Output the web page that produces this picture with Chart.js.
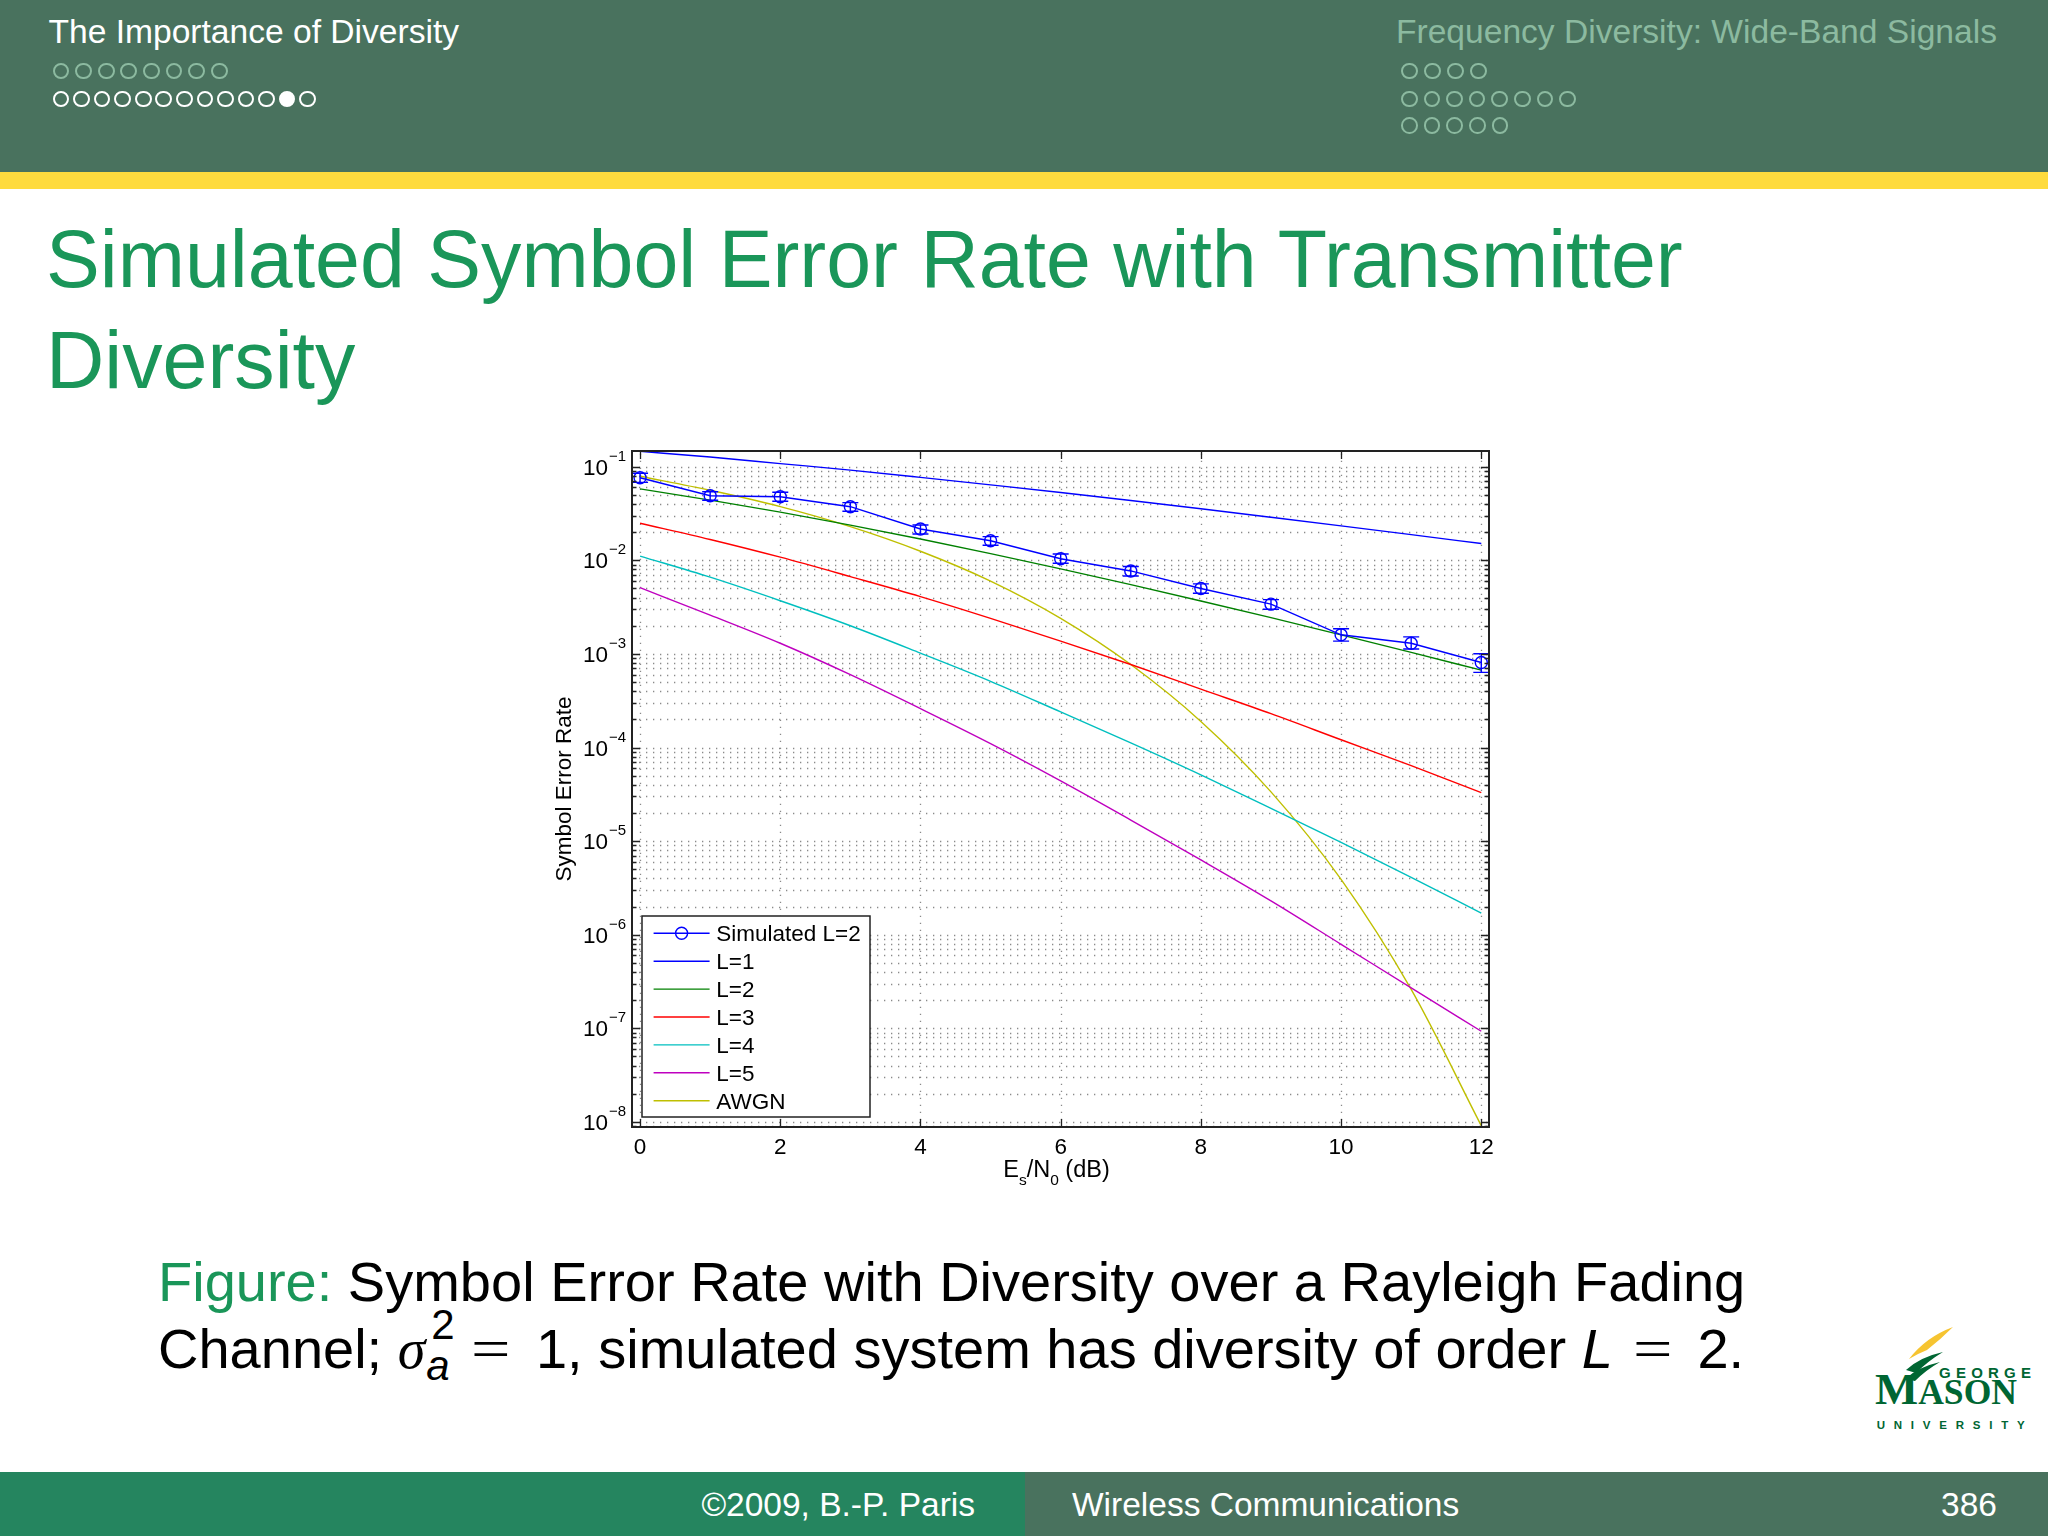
<!DOCTYPE html>
<html>
<head>
<meta charset="utf-8">
<script src="https://cdn.jsdelivr.net/npm/chart.js@4.4.1/dist/chart.umd.min.js"></script>
<style>
html,body{margin:0;padding:0;}
body{width:2048px;height:1536px;position:relative;background:#fff;overflow:hidden;font-family:"Liberation Sans",Arial,Helvetica,sans-serif;}
.abs{position:absolute;white-space:nowrap;line-height:1;}
#hdr{left:0;top:0;width:2048px;height:172px;background:#49725e;}
#ybar{left:0;top:172px;width:2048px;height:17px;background:#fedb3e;}
.htxt{font-size:33.6px;top:14.9px;}
.dot{position:absolute;box-sizing:border-box;width:16.7px;height:16.7px;border-radius:50%;border:2px solid #fff;}
.title{font-size:80.7px;color:#1a9659;left:46px;}
.cap{font-size:56px;color:#000;left:158px;}
.sig{font-family:"Liberation Serif","DejaVu Serif",serif;font-style:italic;}
.ss{display:inline-block;position:relative;width:26px;height:0;}
.ss .sup{position:absolute;left:6px;bottom:22px;font-size:42px;line-height:1;}
.ss .sub{position:absolute;left:1px;bottom:-19px;font-size:42px;line-height:1;font-style:italic;}
.eq{font-family:"Liberation Serif","DejaVu Serif",serif;margin:0 29px 0 24px;display:inline-block;transform:scaleX(1.25);}
#ftL{left:0;top:1472px;width:1025px;height:64px;background:#25855f;}
#ftR{left:1025px;top:1472px;width:1023px;height:64px;background:#49725e;}
.ftxt{font-size:33.5px;color:#fff;top:1487.6px;}
</style>
</head>
<body>
<div class="abs" id="hdr"></div>
<div class="abs" id="ybar"></div>
<div class="abs htxt" style="left:48.5px;color:#fff;">The Importance of Diversity</div>
<div class="abs htxt" style="left:1396px;color:#8cbaa0;">Frequency Diversity: Wide-Band Signals</div>
<div id="dots"></div>

<div class="abs title" style="top:218.7px;">Simulated Symbol Error Rate with Transmitter</div>
<div class="abs title" style="top:319.7px;">Diversity</div>

<canvas id="c" width="1020" height="800" style="position:absolute;left:500px;top:430px;"></canvas>

<div class="abs cap" style="top:1254.3px;"><span style="color:#1a9659;">Figure:</span> Symbol Error Rate with Diversity over a Rayleigh Fading</div>
<div class="abs cap" style="top:1320.9px;">Channel; <span class="sig">σ</span><span class="ss"><span class="sup">2</span><span class="sub">a</span></span><span class="eq">=</span>1, simulated system has diversity of order <i>L</i><span class="eq">=</span>2.</div>

<svg class="abs" style="left:1860px;top:1320px;" width="185" height="120" viewBox="0 0 185 120">
  <path d="M49 39 Q66 17 93 7 Q81 19 67 30 Q57 34 49 39 Z" fill="#f6c431"/>
  <path d="M46 50 Q60 37 83 32 Q68 41 56 53 Z" fill="#006633"/>
  <path d="M45 59 Q58 47 80 42 Q66 50 55 61 Z" fill="#006633"/>
  <text x="79" y="58.3" font-family="Liberation Sans, Arial, sans-serif" font-weight="bold" font-size="15" fill="#006633" textLength="92" lengthAdjust="spacing">GEORGE</text>
  <text x="15" y="84.3" font-family="Liberation Serif, Times New Roman, serif" font-weight="bold" fill="#006633" textLength="142" lengthAdjust="spacingAndGlyphs"><tspan font-size="45">M</tspan><tspan font-size="35">ASON</tspan></text>
  <text x="16.7" y="109" font-family="Liberation Sans, Arial, sans-serif" font-weight="bold" font-size="11.5" fill="#006633" textLength="148" lengthAdjust="spacing">UNIVERSITY</text>
</svg>

<div class="abs" id="ftL"></div>
<div class="abs" id="ftR"></div>
<div class="abs ftxt" style="right:1073px;text-align:right;">©2009, B.-P. Paris</div>
<div class="abs ftxt" style="left:1072px;">Wireless Communications</div>
<div class="abs ftxt" style="right:51px;text-align:right;">386</div>

<script>
// ---------------- navigation dots (slide decoration) ----------------
(function () {
  const rows = [
    {x: 61, y: 71, n: 8, sp: 22.6, c: '#8cbaa0', fill: -1},
    {x: 61, y: 99, n: 13, sp: 20.55, c: '#ffffff', fill: 11},
    {x: 1409.3, y: 71, n: 4, sp: 23, c: '#8cbaa0', fill: -1},
    {x: 1409.3, y: 99, n: 8, sp: 22.6, c: '#8cbaa0', fill: -1},
    {x: 1409.3, y: 125.7, n: 5, sp: 22.7, c: '#8cbaa0', fill: -1}
  ];
  const host = document.getElementById('dots');
  rows.forEach(r => {
    for (let i = 0; i < r.n; i++) {
      const d = document.createElement('div');
      d.className = 'dot';
      d.style.left = (r.x + i * r.sp - 8.35) + 'px';
      d.style.top = (r.y - 8.35) + 'px';
      d.style.borderColor = r.c;
      if (i === r.fill) d.style.background = r.c;
      host.appendChild(d);
    }
  });
})();

// ---------------- chart data ----------------
const snrDb = [0, 1, 2, 3, 4, 5, 6, 7, 8, 9, 10, 11, 12];
const xTickValues = [0, 2, 4, 6, 8, 10, 12];
const yDecadeExps = [-8, -7, -6, -5, -4, -3, -2, -1];
const seriesLabels = ['Simulated L=2', 'L=1', 'L=2', 'L=3', 'L=4', 'L=5', 'AWGN'];

const simL2     = [0.0763, 0.049, 0.0478, 0.0374, 0.0216, 0.0162, 0.0104, 0.0077, 0.0050, 0.0034, 0.0016, 0.0013, 0.00081];
const simL2Low  = [0.068, 0.0438, 0.0427, 0.0334, 0.0191, 0.0145, 0.0093, 0.0068, 0.00444, 0.0030, 0.00137, 0.00113, 0.000635];
const simL2High = [0.085, 0.0541, 0.0533, 0.0413, 0.0238, 0.0179, 0.0117, 0.0086, 0.0056, 0.0038, 0.00186, 0.00152, 0.001005];

const serL1   = [0.146, 0.127, 0.108, 0.092, 0.077, 0.064, 0.053, 0.0435, 0.0355, 0.0288, 0.0233, 0.0188, 0.0151];
const serL2   = [0.058, 0.044, 0.0327, 0.0238, 0.0169, 0.0118, 0.0081, 0.0055, 0.00368, 0.00244, 0.0016, 0.00104, 0.00067];
const serL3   = [0.0249, 0.0167, 0.0108, 0.0067, 0.0041, 0.0024, 0.00137, 0.00077, 0.00042, 0.00023, 0.000121, 0.000064, 0.000033];
const serL4   = [0.0111, 0.0066, 0.0037, 0.0020, 0.00102, 0.00051, 0.00024, 0.000112, 0.000051, 0.0000224, 0.0000097, 0.0000041, 0.0000017];
const serL5   = [0.0051, 0.0026, 0.0013, 0.0006, 0.00026, 0.00011, 0.000044, 0.0000168, 0.0000063, 0.0000023, 7.9e-7, 2.7e-7, 9.3e-8];
const serAWGN = [0.079, 0.056, 0.0375, 0.0229, 0.0125, 0.0060, 0.0024, 0.00077, 0.00019, 0.0000336, 3.9e-6, 2.6e-7, 9.1e-9];

const xMin = -0.115, xMax = 12.11;
const yMin = 8.82e-9, yMax = 0.1472;

// ---------------- chart ----------------
const FONT = '"Liberation Sans", Arial, Helvetica, sans-serif';
const pts = ys => snrDb.map((x, i) => ({x: x, y: ys[i]}));

const yGridTicks = [];
for (let e = -9; e <= -1; e++) {
  for (let m = 1; m <= 9; m++) {
    const v = Number(m + 'e' + e);
    if (v >= yMin && v <= yMax) yGridTicks.push({value: v, major: m === 1});
  }
}

const matlabAxes = {
  id: 'matlabAxes',
  beforeDatasetsDraw(chart) {
    const {ctx, chartArea: a, scales: {x, y}} = chart;
    ctx.save();
    ctx.strokeStyle = '#8a8a8a';
    ctx.lineWidth = 1.3;
    ctx.setLineDash([1.3, 5.7]);
    y.ticks.forEach(t => {
      const py = Math.round(y.getPixelForValue(t.value)) + 0.5;
      ctx.beginPath(); ctx.moveTo(a.left, py); ctx.lineTo(a.right, py); ctx.stroke();
    });
    x.ticks.forEach(t => {
      const px = Math.round(x.getPixelForValue(t.value)) + 0.5;
      ctx.beginPath(); ctx.moveTo(px, a.bottom); ctx.lineTo(px, a.top); ctx.stroke();
    });
    ctx.restore();
  },
  afterDatasetsDraw(chart) {
    const {ctx, chartArea: a, scales: {x, y}} = chart;
    const ds = chart.data.datasets;
    ctx.save();
    // error bars of the simulated series
    ctx.strokeStyle = ds[0].borderColor;
    ctx.lineWidth = 1.4;
    snrDb.forEach((v, i) => {
      const px = x.getPixelForValue(v);
      const pl = y.getPixelForValue(simL2Low[i]);
      const ph = y.getPixelForValue(simL2High[i]);
      ctx.beginPath();
      ctx.moveTo(px, pl); ctx.lineTo(px, ph);
      ctx.moveTo(px - 8, pl); ctx.lineTo(px + 8, pl);
      ctx.moveTo(px - 8, ph); ctx.lineTo(px + 8, ph);
      ctx.stroke();
    });
    // axes box
    ctx.strokeStyle = '#222';
    ctx.lineWidth = 2;
    ctx.strokeRect(a.left, a.top, a.right - a.left, a.bottom - a.top);
    // inward ticks
    ctx.lineWidth = 1.3;
    ctx.beginPath();
    x.ticks.forEach(t => {
      const px = Math.round(x.getPixelForValue(t.value)) + 0.5;
      ctx.moveTo(px, a.bottom); ctx.lineTo(px, a.bottom - 8);
      ctx.moveTo(px, a.top); ctx.lineTo(px, a.top + 8);
    });
    y.ticks.forEach(t => {
      const py = Math.round(y.getPixelForValue(t.value)) + 0.5;
      const len = t.major ? 8 : 4.5;
      ctx.moveTo(a.left, py); ctx.lineTo(a.left + len, py);
      ctx.moveTo(a.right, py); ctx.lineTo(a.right - len, py);
    });
    ctx.stroke();
    // tick labels
    ctx.fillStyle = '#000';
    ctx.textBaseline = 'alphabetic';
    ctx.font = '22.5px ' + FONT;
    ctx.textAlign = 'center';
    xTickValues.forEach(v => ctx.fillText(String(v), x.getPixelForValue(v), a.bottom + 27));
    yDecadeExps.forEach(e => {
      const py = y.getPixelForValue(Math.pow(10, e));
      ctx.font = '22.5px ' + FONT;
      ctx.textAlign = 'right';
      ctx.fillText('10', a.left - 24, py + 8);
      ctx.font = '15px ' + FONT;
      ctx.textAlign = 'left';
      ctx.fillText('\u2212' + Math.abs(e), a.left - 23, py - 6);
    });
    // y axis title
    ctx.save();
    ctx.translate(a.left - 61.5, (a.top + a.bottom) / 2);
    ctx.rotate(-Math.PI / 2);
    ctx.font = '22.5px ' + FONT;
    ctx.textAlign = 'center';
    ctx.fillText('Symbol Error Rate', 0, 0);
    ctx.restore();
    // x axis title  E_s/N_0 (dB)
    const parts = [['E', 0], ['s', 1], ['/N', 0], ['0', 1], [' (dB)', 0]];
    let total = 0;
    parts.forEach(p => { ctx.font = (p[1] ? '15.5px ' : '23.5px ') + FONT; total += ctx.measureText(p[0]).width; });
    let cx = (a.left + a.right) / 2 - 4 - total / 2;
    ctx.textAlign = 'left';
    parts.forEach(p => {
      ctx.font = (p[1] ? '15.5px ' : '23.5px ') + FONT;
      ctx.fillText(p[0], cx, a.bottom + 50 + (p[1] ? 8 : 0));
      cx += ctx.measureText(p[0]).width;
    });
    // legend
    const lx = a.left + 10, lw = 228, lh = 201, ly = a.bottom - 10 - lh;
    ctx.fillStyle = '#fff';
    ctx.fillRect(lx, ly, lw, lh);
    ctx.strokeStyle = '#222';
    ctx.lineWidth = 1.5;
    ctx.strokeRect(lx, ly, lw, lh);
    ds.forEach((d, i) => {
      const cy = ly + 17.3 + i * 27.9;
      ctx.strokeStyle = d.borderColor;
      ctx.lineWidth = 1.4;
      ctx.beginPath(); ctx.moveTo(lx + 11.6, cy); ctx.lineTo(lx + 67.6, cy); ctx.stroke();
      if (d.pointRadius > 0) {
        ctx.beginPath(); ctx.arc(lx + 39.6, cy, d.pointRadius, 0, Math.PI * 2); ctx.stroke();
      }
      ctx.fillStyle = '#000';
      ctx.font = '22.5px ' + FONT;
      ctx.textAlign = 'left';
      ctx.fillText(d.label, lx + 74.3, cy + 8);
    });
    ctx.restore();
  }
};

const lineDs = (label, ys, color) => ({
  label: label, data: pts(ys), borderColor: color, backgroundColor: color,
  borderWidth: 1.4, pointRadius: 0, cubicInterpolationMode: 'monotone', fill: false
});

new Chart(document.getElementById('c'), {
  type: 'line',
  data: {
    datasets: [
      {label: seriesLabels[0], data: pts(simL2), borderColor: '#0000ff', backgroundColor: 'rgba(0,0,0,0)',
       borderWidth: 1.4, pointRadius: 6, pointBorderWidth: 1.4, pointStyle: 'circle',
       pointBackgroundColor: 'rgba(0,0,0,0)', pointBorderColor: '#0000ff', tension: 0, fill: false},
      lineDs(seriesLabels[1], serL1, '#0000ff'),
      lineDs(seriesLabels[2], serL2, '#008000'),
      lineDs(seriesLabels[3], serL3, '#ff0000'),
      lineDs(seriesLabels[4], serL4, '#00bfbf'),
      lineDs(seriesLabels[5], serL5, '#bf00bf'),
      lineDs(seriesLabels[6], serAWGN, '#bfbf00')
    ]
  },
  options: {
    responsive: false,
    animation: false,
    devicePixelRatio: 1,
    layout: {padding: {left: 132, top: 21, right: 31, bottom: 103}},
    plugins: {legend: {display: false}, tooltip: {enabled: false}},
    events: [],
    scales: {
      x: {
        type: 'linear', min: xMin, max: xMax, bounds: 'data',
        grid: {display: false, drawTicks: false}, border: {display: false},
        ticks: {display: false},
        afterBuildTicks: s => { s.ticks = xTickValues.map(v => ({value: v})); }
      },
      y: {
        type: 'logarithmic', min: yMin, max: yMax, bounds: 'data',
        grid: {display: false, drawTicks: false}, border: {display: false},
        ticks: {display: false},
        afterBuildTicks: s => { s.ticks = yGridTicks.map(t => ({value: t.value, major: t.major})); }
      }
    }
  },
  plugins: [matlabAxes]
});
</script>
</body>
</html>
